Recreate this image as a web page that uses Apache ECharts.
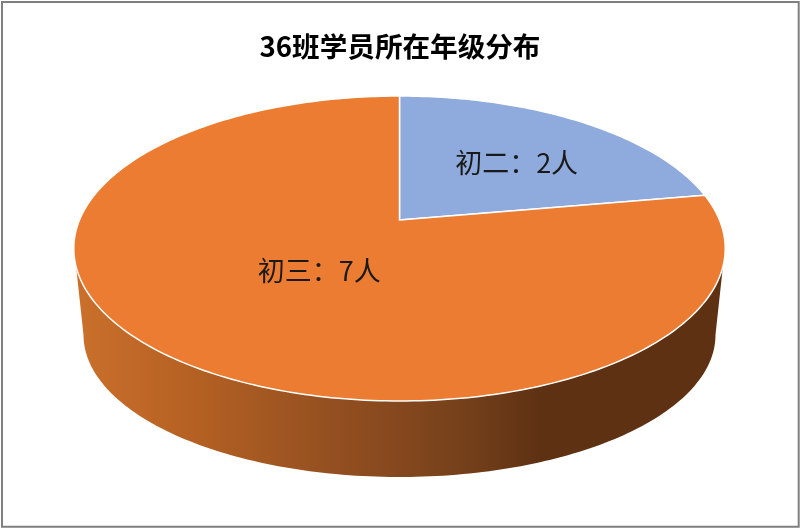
<!DOCTYPE html>
<html>
<head>
<meta charset="utf-8">
<style>html,body{margin:0;padding:0;background:#fff}#c{width:800px;height:528px}</style>
<script src="https://cdn.jsdelivr.net/npm/echarts@6/dist/echarts.min.js"></script>
</head>
<body>
<div id="c"></div>
<script>
const titleText = '36班学员所在年级分布';
const categories = ['初二', '初三'];
const values = [2, 7];
const units = '人';
const sliceColors = ['#8faadc', '#eb7c31'];
const labelRadius = [0.62, 0.37];

const FONT = '"Noto Sans CJK SC", sans-serif';
const total = values.reduce((a, b) => a + b, 0);
// perspective discs: top face and bottom rim of the 3D pie
const topDisc = { cx: 399.5, R: 320, A: 220, a: -106.06, c: 0.1869 };
const lowDisc = { cx: 399.5, R: 309.6, A: 306.6, a: -75, c: 0.2 };
const project = (d, deg, f = 1) => {
  const t = deg * Math.PI / 180, u = Math.sin(t) * f, v = Math.cos(t) * f, w = 1 + d.c * v;
  return [d.cx + d.R * u / w, (d.A + d.a * v) / w];
};
const arc = (d, from, to) => {
  const pts = [], n = Math.max(2, Math.ceil(Math.abs(to - from)));
  for (let i = 0; i <= n; i++) pts.push(project(d, from + (to - from) * i / n));
  return pts;
};
const wallTop = [107.5, 252.5], wallLow = [101.5, 258.5];
const wallGradient = new echarts.graphic.LinearGradient(74, 0, 725, 0, [
  { offset: 0, color: '#cb702c' },
  { offset: 0.18, color: '#b56123' },
  { offset: 0.4, color: '#934f20' },
  { offset: 0.5, color: '#85481e' },
  { offset: 0.6, color: '#74401a' },
  { offset: 0.72, color: '#5e3113' },
  { offset: 1, color: '#5e3113' }
], true);

function renderItem(params) {
  const i = params.dataIndex;
  const before = values.slice(0, i).reduce((a, b) => a + b, 0);
  const a0 = before / total * 360, a1 = (before + values[i]) / total * 360;
  const children = [];
  const s = Math.max(a0, wallTop[0]), e = Math.min(a1, wallTop[1]);
  if (s < e) {
    const pts = arc(topDisc, s, e).concat(arc(lowDisc, Math.min(a1, wallLow[1]), Math.max(a0, wallLow[0])));
    children.push({ type: 'polygon', shape: { points: pts }, style: { fill: wallGradient, stroke: null } });
  }
  const face = [project(topDisc, 0, 0)].concat(arc(topDisc, a0, a1));
  children.push({ type: 'polygon', shape: { points: face }, style: { fill: sliceColors[i], stroke: '#ffffff', lineWidth: 1.5 } });
  const p = project(topDisc, (a0 + a1) / 2, labelRadius[i]);
  children.push({
    type: 'text', x: p[0], y: p[1] + 7, z2: 10,
    style: {
      text: categories[i] + '：' + values[i] + units,
      fill: '#1a1a1a', font: '400 27px ' + FONT, textAlign: 'center', textVerticalAlign: 'middle'
    }
  });
  return { type: 'group', children };
}

const chart = echarts.init(document.getElementById('c'));
chart.setOption({
  animation: false,
  backgroundColor: '#ffffff',
  title: {
    text: titleText, left: 'center', top: 28,
    textStyle: { fontFamily: FONT, fontSize: 27.6, fontWeight: 'bold', color: '#000000' }
  },
  graphic: [{
    type: 'rect', silent: true,
    shape: { x: 2, y: 2, width: 796.7, height: 524.7 },
    style: { fill: 'none', stroke: '#7f7f7f', lineWidth: 2 }
  }],
  series: [{
    type: 'custom', coordinateSystem: 'none', silent: true,
    data: values, renderItem
  }]
});
</script>
</body>
</html>
